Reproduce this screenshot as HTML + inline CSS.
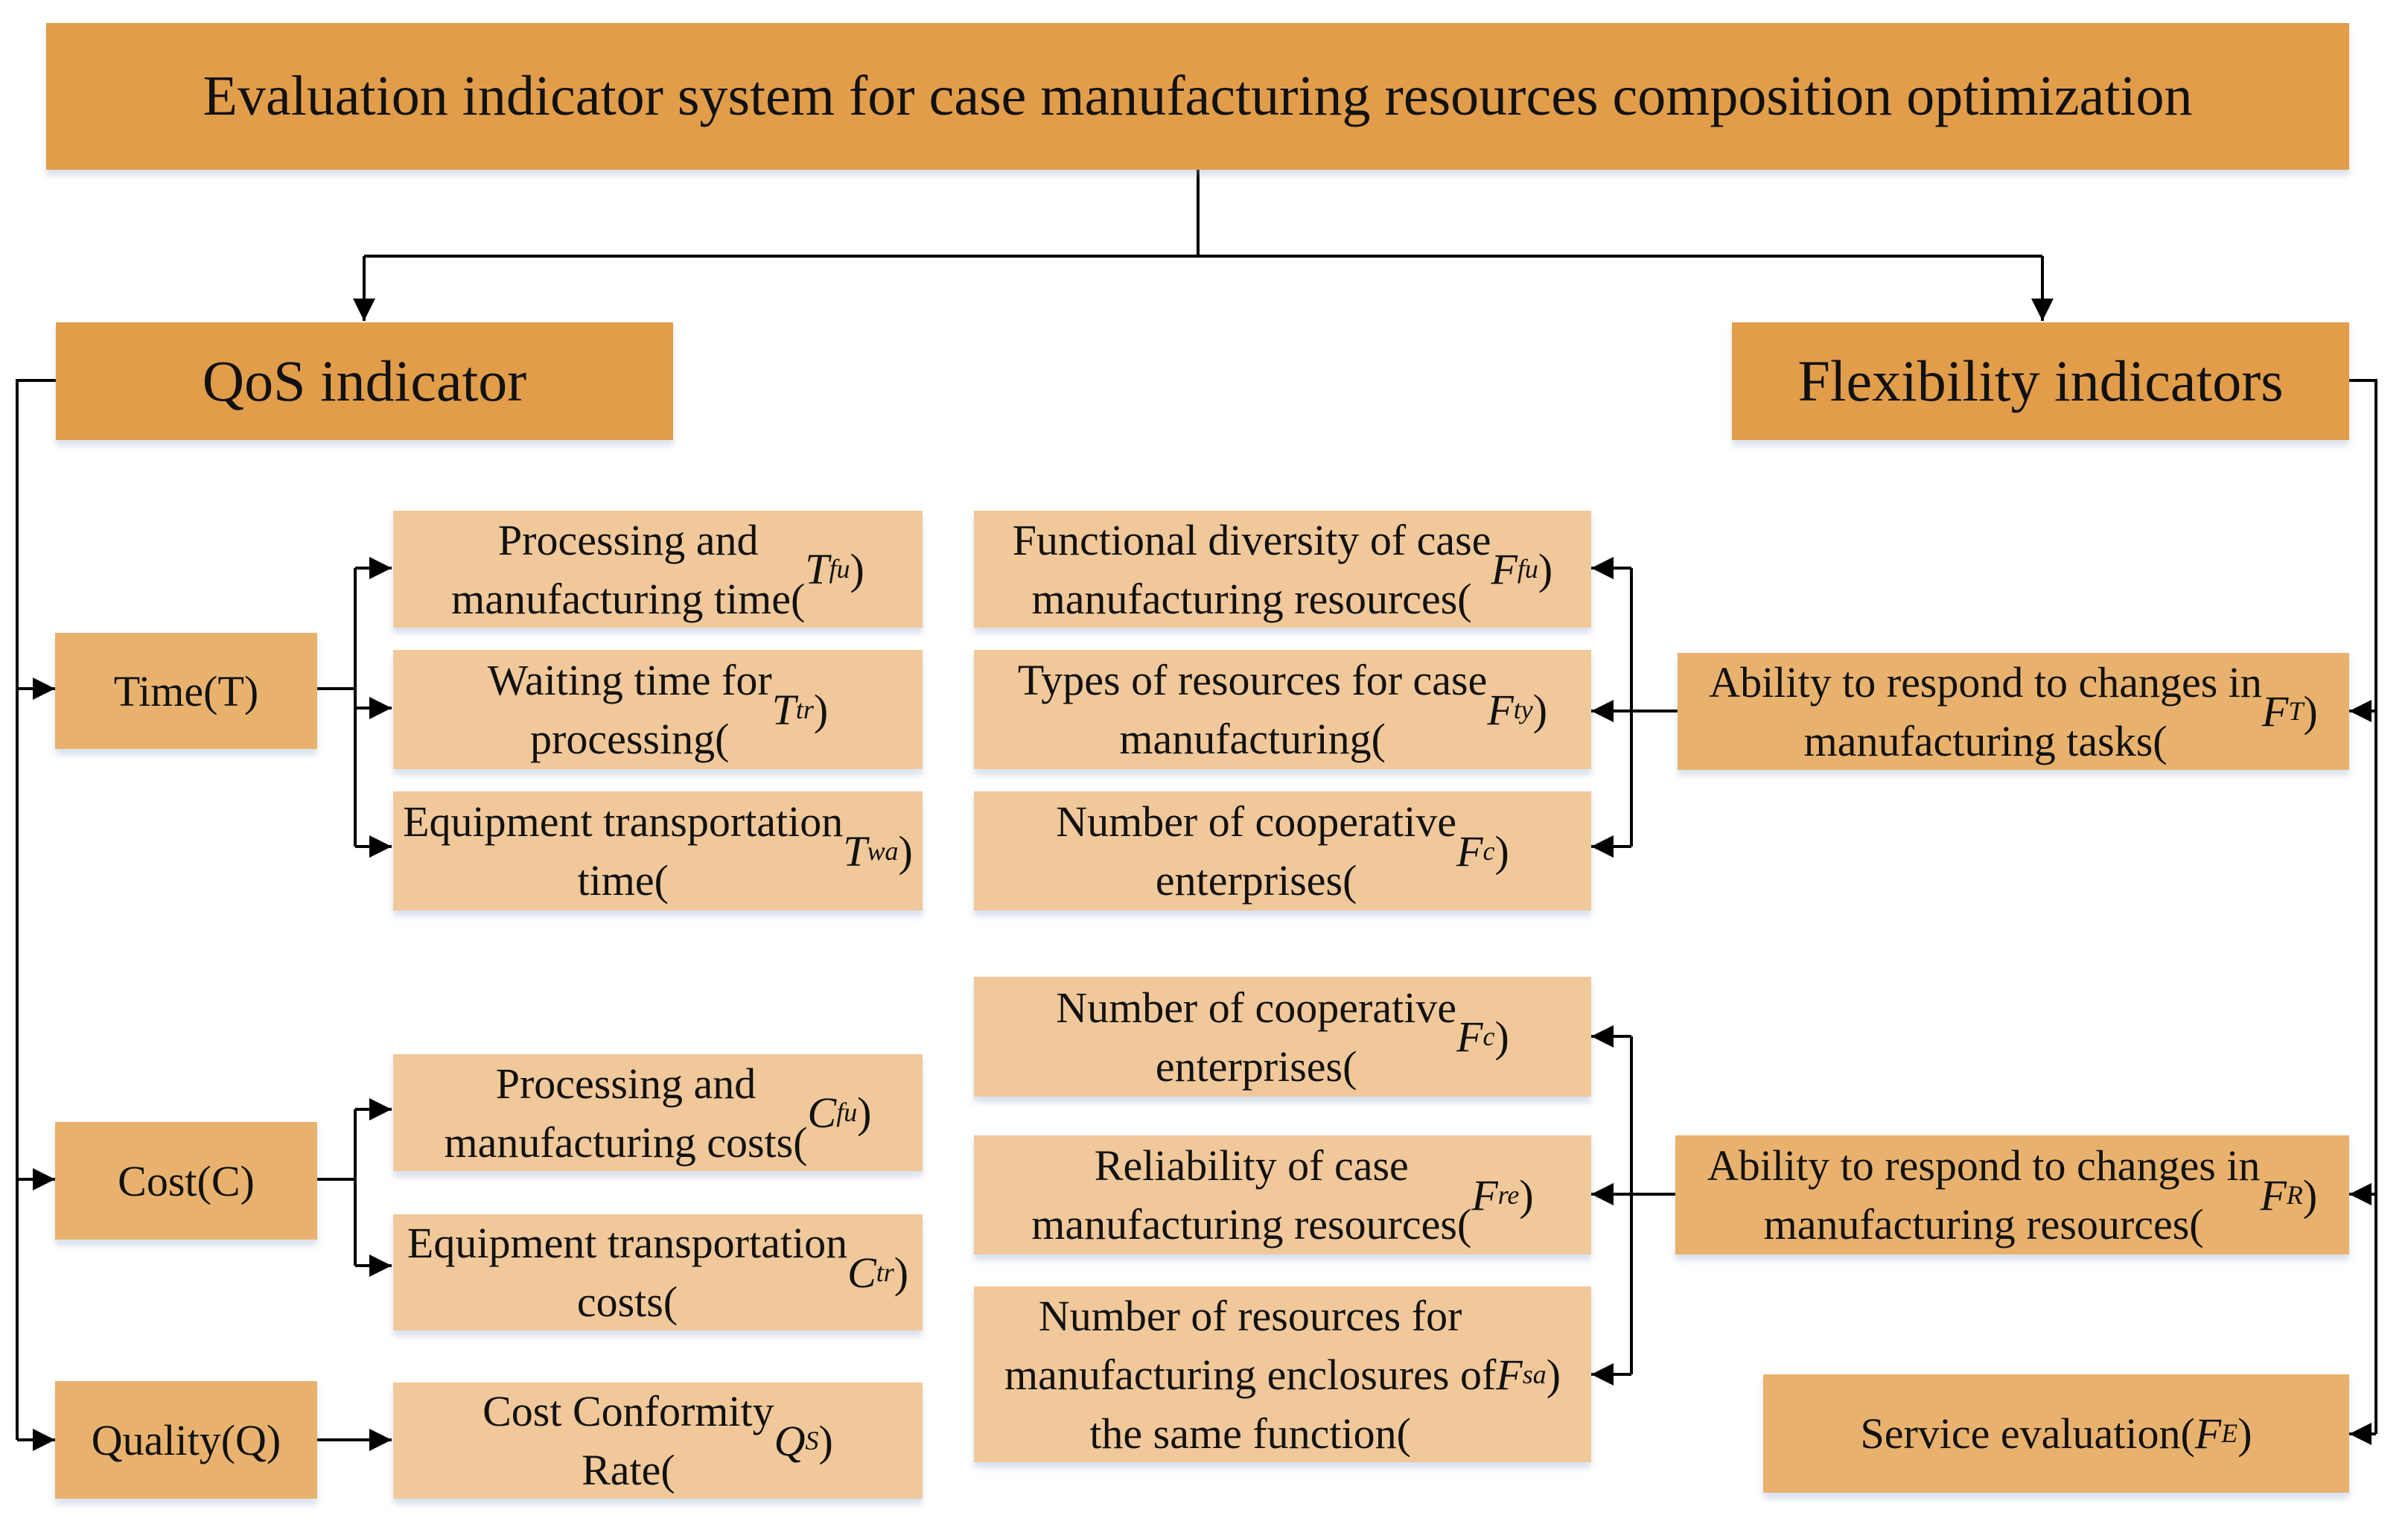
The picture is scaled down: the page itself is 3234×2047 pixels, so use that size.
<!DOCTYPE html>
<html><head><meta charset="utf-8"><style>
body{margin:0;width:3234px;height:2047px;background:#fff;position:relative;overflow:hidden;font-family:"Liberation Serif",serif;color:#111}
.b{position:absolute;display:flex;align-items:center;justify-content:center;text-align:center;box-sizing:border-box;box-shadow:0 8px 8px rgba(150,170,200,.35)}
.d{background:#E19D4A}
.m{background:#E8B26E}
.l{background:#F0C89A}
.s{font-size:58px;line-height:79px}
i{font-style:italic}
sub{font-size:0.62em;vertical-align:-0.25em;font-style:italic}
svg{position:absolute;left:0;top:0}
</style></head><body>
<svg width="3234" height="2047">
<defs><marker id="a" markerWidth="8" markerHeight="8" refX="7" refY="4" orient="auto" markerUnits="userSpaceOnUse" viewBox="0 0 8 8"><path d="M0,0 L8,4 L0,8z" fill="#000"/></marker>
<marker id="A" viewBox="0 0 10 10" refX="10" refY="5" markerWidth="30" markerHeight="30" markerUnits="userSpaceOnUse" orient="auto"><path d="M0,0 L10,5 L0,10z" fill="#000"/></marker></defs>
<g stroke="#000" stroke-width="4" fill="none">
<path d="M1609,228 V344"/>
<path d="M489,344 H2743"/>
<path d="M489,344 V431" marker-end="url(#A)"/>
<path d="M2743,344 V431" marker-end="url(#A)"/>
<path d="M75,511 H23 V1934"/>
<path d="M23,925 H74" marker-end="url(#A)"/>
<path d="M23,1584 H74" marker-end="url(#A)"/>
<path d="M23,1934 H74" marker-end="url(#A)"/>
<path d="M426,925 H477"/>
<path d="M477,763 V1137"/>
<path d="M477,763 H526" marker-end="url(#A)"/>
<path d="M477,951 H526" marker-end="url(#A)"/>
<path d="M477,1137 H526" marker-end="url(#A)"/>
<path d="M426,1584 H477 M477,1490 V1700"/>
<path d="M477,1490 H526" marker-end="url(#A)"/>
<path d="M477,1700 H526" marker-end="url(#A)"/>
<path d="M426,1934 H526" marker-end="url(#A)"/>
<path d="M2253,955 H2191 M2191,763 V1137"/>
<path d="M2191,763 H2137" marker-end="url(#A)"/>
<path d="M2191,955 H2137" marker-end="url(#A)"/>
<path d="M2191,1137 H2137" marker-end="url(#A)"/>
<path d="M2250,1604 H2191 M2191,1392 V1846"/>
<path d="M2191,1392 H2137" marker-end="url(#A)"/>
<path d="M2191,1604 H2137" marker-end="url(#A)"/>
<path d="M2191,1846 H2137" marker-end="url(#A)"/>
<path d="M3155,511 H3191 V1926"/>
<path d="M3191,955 H3155" marker-end="url(#A)"/>
<path d="M3191,1604 H3155" marker-end="url(#A)"/>
<path d="M3191,1926 H3155" marker-end="url(#A)"/>
</g></svg>

<div class="b d" style="left:62px;top:31px;width:3093px;height:197px;font-size:76px;white-space:nowrap">Evaluation indicator system for case manufacturing resources composition optimization</div>
<div class="b d" style="left:75px;top:433px;width:829px;height:158px;font-size:78px">QoS indicator</div>
<div class="b d" style="left:2326px;top:433px;width:829px;height:158px;font-size:78px">Flexibility indicators</div>

<div class="b m s" style="left:74px;top:850px;width:352px;height:156px">Time(T)</div>
<div class="b m s" style="left:74px;top:1507px;width:352px;height:158px">Cost(C)</div>
<div class="b m s" style="left:74px;top:1855px;width:352px;height:158px">Quality(Q)</div>

<div class="b l s" style="left:528px;top:686px;width:711px;height:157px">Processing and<br>manufacturing time(<i>T</i><sub>fu</sub>)</div>
<div class="b l s" style="left:528px;top:873px;width:711px;height:160px">Waiting time for<br>processing(<i>T</i><sub>tr</sub>)</div>
<div class="b l s" style="left:528px;top:1063px;width:711px;height:160px">Equipment transportation<br>time(<i>T</i><sub>wa</sub>)</div>
<div class="b l s" style="left:528px;top:1416px;width:711px;height:157px">Processing and<br>manufacturing costs(<i>C</i><sub>fu</sub>)</div>
<div class="b l s" style="left:528px;top:1631px;width:711px;height:156px">Equipment transportation<br>costs(<i>C</i><sub>tr</sub>)</div>
<div class="b l s" style="left:528px;top:1857px;width:711px;height:156px">Cost Conformity<br>Rate(<i>Q</i><sub>S</sub>)</div>

<div class="b l s" style="left:1308px;top:686px;width:829px;height:157px">Functional diversity of case<br>manufacturing resources(<i>F</i><sub>fu</sub>)</div>
<div class="b l s" style="left:1308px;top:873px;width:829px;height:160px">Types of resources for case<br>manufacturing(<i>F</i><sub>ty</sub>)</div>
<div class="b l s" style="left:1308px;top:1063px;width:829px;height:160px">Number of cooperative<br>enterprises(<i>F</i><sub>c</sub>)</div>
<div class="b l s" style="left:1308px;top:1312px;width:829px;height:161px">Number of cooperative<br>enterprises(<i>F</i><sub>c</sub>)</div>
<div class="b l s" style="left:1308px;top:1525px;width:829px;height:160px">Reliability of case<br>manufacturing resources(<i>F</i><sub>re</sub>)</div>
<div class="b l s" style="left:1308px;top:1728px;width:829px;height:236px">Number of resources for<br>manufacturing enclosures of<br>the same function(<i>F</i><sub>sa</sub>)</div>

<div class="b m s" style="left:2253px;top:877px;width:902px;height:157px">Ability to respond to changes in<br>manufacturing tasks(<i>F</i><sub>T</sub>)</div>
<div class="b m s" style="left:2250px;top:1525px;width:905px;height:160px">Ability to respond to changes in<br>manufacturing resources(<i>F</i><sub>R</sub>)</div>
<div class="b m s" style="left:2368px;top:1846px;width:787px;height:159px">Service evaluation(<i>F</i><sub>E</sub>)</div>
</body></html>
